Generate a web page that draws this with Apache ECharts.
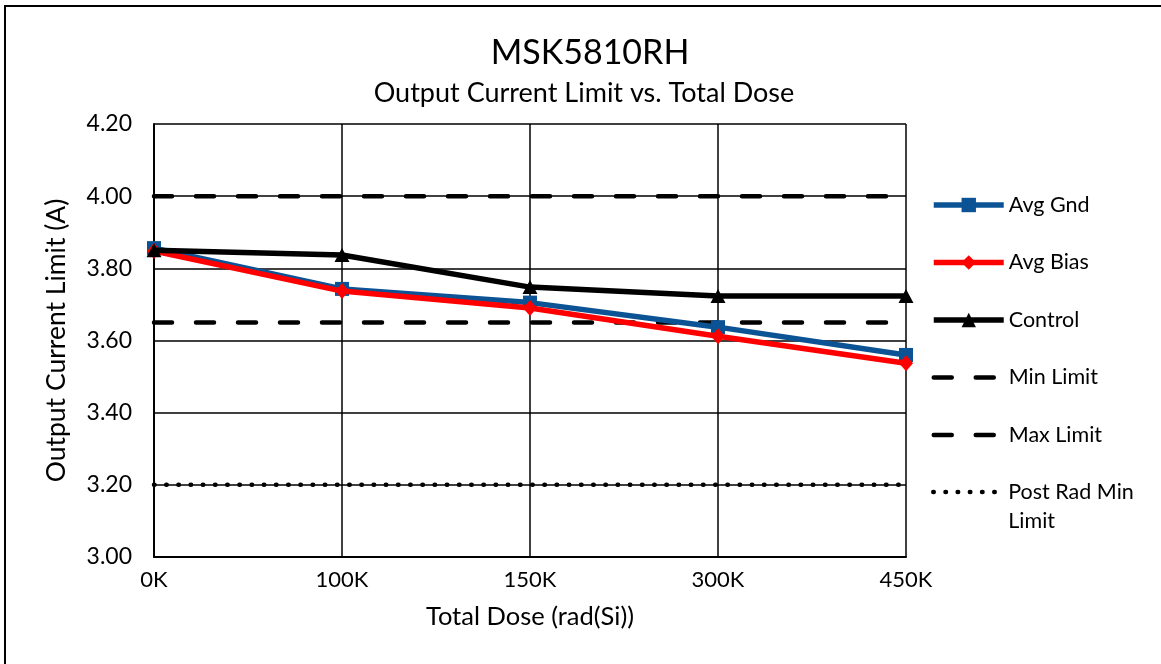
<!DOCTYPE html>
<html><head><meta charset="utf-8">
<script src="https://cdn.jsdelivr.net/npm/echarts@6/dist/echarts.min.js"></script>
<style>html,body{margin:0;padding:0;background:#fff}#c{width:1161px;height:664px}</style>
</head><body><div id="c"></div>
<script>
const categories = ['0K', '100K', '150K', '300K', '450K'];
const avgGnd = [3.856, 3.743, 3.705, 3.637, 3.560];
const avgBias = [3.848, 3.737, 3.690, 3.612, 3.537];
const control = [3.850, 3.837, 3.748, 3.723, 3.723];
const minLimit = [3.65, 3.65, 3.65, 3.65, 3.65];
const maxLimit = [4.00, 4.00, 4.00, 4.00, 4.00];
const postRadMin = [3.20, 3.20, 3.20, 3.20, 3.20];

const FONT = 'Lato';
const chart = echarts.init(document.getElementById('c'));
const dash = [18, 24];
const legendText = { fontFamily: FONT, fontSize: 21.5, color: '#000', lineHeight: 29 };
const hideSym = { itemStyle: { opacity: 0 } };
chart.setOption({
  animation: false,
  textStyle: { fontFamily: FONT, color: '#000' },
  graphic: [{ type: 'rect', shape: { x: 5, y: 6, width: 1200, height: 700 }, style: { fill: 'none', stroke: '#000', lineWidth: 2 } }],
  title: [
    { text: 'MSK5810RH', left: 585, textAlign: 'center', top: 31, textStyle: { fontFamily: FONT, fontSize: 34, fontWeight: 'normal', color: '#000' } },
    { text: 'Output Current Limit vs. Total Dose', left: 579, textAlign: 'center', top: 75, textStyle: { fontFamily: FONT, fontSize: 27, fontWeight: 'normal', color: '#000' } }
  ],
  grid: { left: 154, top: 124, width: 752, height: 433, containLabel: false },
  legend: [{
    orient: 'vertical', left: 931, top: 190.5, padding: 0, itemWidth: 70, itemHeight: 18, itemGap: 28.5,
    lineStyle: { width: 'inherit' },
    textStyle: legendText,
    data: ['Avg Gnd', 'Avg Bias', 'Control',
      Object.assign({ name: 'Min Limit' }, hideSym),
      Object.assign({ name: 'Max Limit' }, hideSym)]
  }, {
    orient: 'vertical', left: 931, top: 448.5, padding: 0, itemWidth: 70, itemHeight: 18,
    lineStyle: { width: 'inherit' },
    textStyle: legendText,
    data: [Object.assign({ name: 'Post Rad Min Limit' }, hideSym)],
    formatter: () => '\nPost Rad Min\nLimit'
  }],
  xAxis: {
    type: 'category', data: categories, boundaryGap: false,
    name: 'Total Dose (rad(Si))', nameLocation: 'middle', nameGap: 47,
    nameTextStyle: { fontFamily: FONT, fontSize: 25.5, color: '#000' },
    axisLine: { lineStyle: { color: '#000', width: 2 } },
    axisTick: { show: false },
    axisLabel: { fontFamily: FONT, fontSize: 22, color: '#000', margin: 12 },
    splitLine: { show: true, lineStyle: { color: '#000', width: 1.5 } }
  },
  yAxis: {
    type: 'value', min: 3, max: 4.2, interval: 0.2,
    name: 'Output Current Limit (A)', nameLocation: 'middle', nameGap: 84,
    nameTextStyle: { fontFamily: FONT, fontSize: 26.5, color: '#000' },
    axisLine: { show: true, lineStyle: { color: '#000', width: 2 } },
    axisTick: { show: false },
    axisLabel: { fontFamily: FONT, fontSize: 23, color: '#000', margin: 22, formatter: v => v.toFixed(2) },
    splitLine: { show: true, lineStyle: { color: '#000', width: 1.5 } }
  },
  series: [
    { name: 'Max Limit', type: 'line', data: maxLimit, symbol: 'none', lineStyle: { color: '#000', width: 4.5, type: dash, cap: 'round' }, itemStyle: { color: '#000' }, z: 2 },
    { name: 'Min Limit', type: 'line', data: minLimit, symbol: 'none', lineStyle: { color: '#000', width: 4.5, type: dash, cap: 'round' }, itemStyle: { color: '#000' }, z: 2 },
    { name: 'Post Rad Min Limit', type: 'line', data: postRadMin, symbol: 'none', lineStyle: { color: '#000', width: 4.5, type: [0.5, 11.7], cap: 'round' }, itemStyle: { color: '#000' }, z: 2 },
    { name: 'Avg Gnd', type: 'line', data: avgGnd, symbol: 'rect', symbolSize: 14, lineStyle: { color: '#0b5394', width: 5.5 }, itemStyle: { color: '#0b5394' }, z: 3 },
    { name: 'Avg Bias', type: 'line', data: avgBias, symbol: 'diamond', symbolSize: [14, 16], lineStyle: { color: '#ff0000', width: 5.5 }, itemStyle: { color: '#ff0000' }, z: 4 },
    { name: 'Control', type: 'line', data: control, symbol: 'triangle', symbolSize: [15, 14], lineStyle: { color: '#000', width: 5.5 }, itemStyle: { color: '#000' }, z: 5 }
  ]
});
</script></body></html>
